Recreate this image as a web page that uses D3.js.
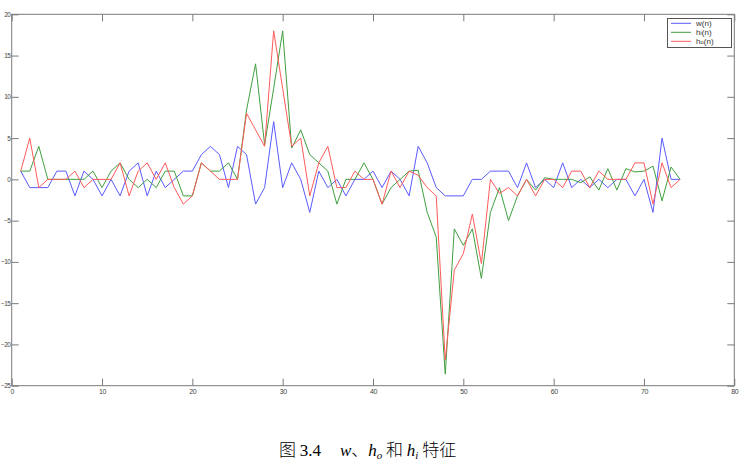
<!DOCTYPE html>
<html><head><meta charset="utf-8">
<script src="https://cdn.jsdelivr.net/npm/d3@7"></script>
<style>body{margin:0;background:#fff;} svg{display:block;}</style>
</head><body>
<svg id="chart" width="747" height="465"></svg>
<script>
const n = d3.range(1, 75);
const wSeries = [1,-1,-1,-1,1,1,-2,1,0,-2,0,-2,1,2,-2,1,-1,0,1,1,3,4,3,-1,4,3,-3,-1,7,-1,2,0,-4,1,-1,0,-2,0,0,1,-1,1,0,-2,4,2,-1,-2,-2,-2,0,0,1,1,1,-1,2,-1,0,-1,2,-1,0,-1,0,-1,0,0,-2,0,-4,5,0,0];
const hiSeries = [1,1,4,0,0,0,0,0,1,-1,1,2,0,-1,0,-1,1,1,-2,-2,2,1,1,2,0,8.4,14,4.2,11,18,3.8,6,3,2,1,-3,0,0,2,0,-3,-1,0,1,1.1,-4,-7,-23.6,-6,-8,-6,-12,-4,-1,-5,-2,0,-1.3,0.2,0,0,0,-0.4,0.3,-1.3,1.3,-1.3,1.3,0.9,1,1.6,-2.6,1.5,0];
const hoSeries = [1,5,-1,0,0,0,1,-1,0,0,0,2,-2,1,2,0,2,-1,-3,-2,2,1,0,0,0,8,6,4,18,11,4,5,-2,2,4,-1,-1,1,0,0,-3,1,-1,1,0.5,-1,-2,-21.9,-11,-9,-4.2,-10.2,0,-1.7,-1,-2,0,-2,0,0,-1,1,1,-1,1,0,0,0,2,2,-3,2,-1,0];
const xTicks = [0,10,20,30,40,50,60,70,80];
const yTicks = [-25,-20,-15,-10,-5,0,5,10,15,20];
const seriesNames = ["w(n)", "hi(n)", "ho(n)"];
const seriesColors = ["#5a5aff", "#3f9f3f", "#ff5a5a"];

const svg = d3.select("#chart");
const L = 11.7, R = 734.3, T = 14.3, B = 385.7;
const x = d3.scaleLinear().domain([0, 80]).range([L, R]);
const y = d3.scaleLinear().domain([-25, 20]).range([B, T]);
const axisColor = "#7a7a7a";
const fontTick = "Liberation Sans, Arial, sans-serif";
const tickLen = 7;

svg.append("g").attr("transform", `translate(0,${B})`)
  .call(d3.axisBottom(x).tickValues(xTicks).tickSize(-tickLen).tickPadding(3).tickFormat(d3.format("d")))
  .call(g => { g.select(".domain").remove(); g.selectAll("line").attr("stroke", axisColor);
    g.selectAll("text").attr("fill", "#444").style("font", `7px ${fontTick}`).style("letter-spacing", "-0.4px"); });
svg.append("g").attr("transform", `translate(0,${T})`)
  .call(d3.axisTop(x).tickValues(xTicks).tickSize(-tickLen).tickFormat(""))
  .call(g => { g.select(".domain").remove(); g.selectAll("line").attr("stroke", axisColor); });
svg.append("g").attr("transform", `translate(${L},0)`)
  .call(d3.axisLeft(y).tickValues(yTicks).tickSize(-tickLen).tickFormat(d3.format("d")))
  .call(g => { g.select(".domain").remove(); g.selectAll("line").attr("stroke", axisColor);
    g.selectAll("text").attr("fill", "#444").attr("x", -1.5)
      .style("font", `6.5px ${fontTick}`).style("letter-spacing", "-0.6px"); });
svg.append("g").attr("transform", `translate(${R},0)`)
  .call(d3.axisRight(y).tickValues(yTicks).tickSize(-tickLen).tickFormat(""))
  .call(g => { g.select(".domain").remove(); g.selectAll("line").attr("stroke", axisColor); });

svg.append("rect").attr("x", L).attr("y", T).attr("width", R - L).attr("height", B - T)
  .attr("fill", "none").attr("stroke", axisColor).attr("stroke-width", 1);

const line = d3.line().x((d, i) => x(n[i])).y(d => y(d));
[wSeries, hiSeries, hoSeries].forEach((s, k) => {
  svg.append("path").datum(s).attr("d", line).attr("fill", "none")
    .attr("stroke", seriesColors[k]).attr("stroke-width", 1);
});

// legend
const lg = svg.append("g");
lg.append("rect").attr("x", 667.5).attr("y", 18.5).attr("width", 64).attr("height", 29)
  .attr("fill", "#fff").attr("stroke", "#555").attr("stroke-width", 1);
seriesNames.forEach((name, k) => {
  const yy = 23.3 + k * 9;
  lg.append("line").attr("x1", 671).attr("x2", 691).attr("y1", yy).attr("y2", yy)
    .attr("stroke", seriesColors[k]).attr("stroke-width", 1);
  const t = lg.append("text").attr("x", 696).attr("y", yy + 2.8).attr("fill", "#333")
    .style("font", `8px ${fontTick}`);
  if (k === 0) t.text(name);
  else {
    t.append("tspan").text("h");
    t.append("tspan").attr("font-size", "6px").text(name.charAt(1));
    t.append("tspan").text("(n)");
  }
});

// caption
const cap = svg.append("text").attr("x", 279).attr("y", 456).attr("fill", "#000")
  .style("font-size", "17px").style("font-family", "Liberation Serif, 'Noto Sans CJK SC', serif");
cap.append("tspan").style("font-family", "'Noto Sans CJK SC'").style("font-weight", "300").text("图 ");
cap.append("tspan").text("3.4");
cap.append("tspan").attr("x", 340).style("font-style", "italic").text("w");
cap.append("tspan").style("font-family", "'Noto Sans CJK SC'").style("font-weight", "300").text("、");
cap.append("tspan").style("font-style", "italic").text("h");
cap.append("tspan").style("font-style", "italic").style("font-size", "11px").attr("dy", 3).text("o");
cap.append("tspan").attr("dy", -3).style("font-family", "'Noto Sans CJK SC'").style("font-weight", "300").text(" 和 ");
cap.append("tspan").style("font-style", "italic").text("h");
cap.append("tspan").style("font-style", "italic").style("font-size", "11px").attr("dy", 3).text("i");
cap.append("tspan").attr("dy", -3).style("font-family", "'Noto Sans CJK SC'").style("font-weight", "300").text(" 特征");
</script>
</body></html>
